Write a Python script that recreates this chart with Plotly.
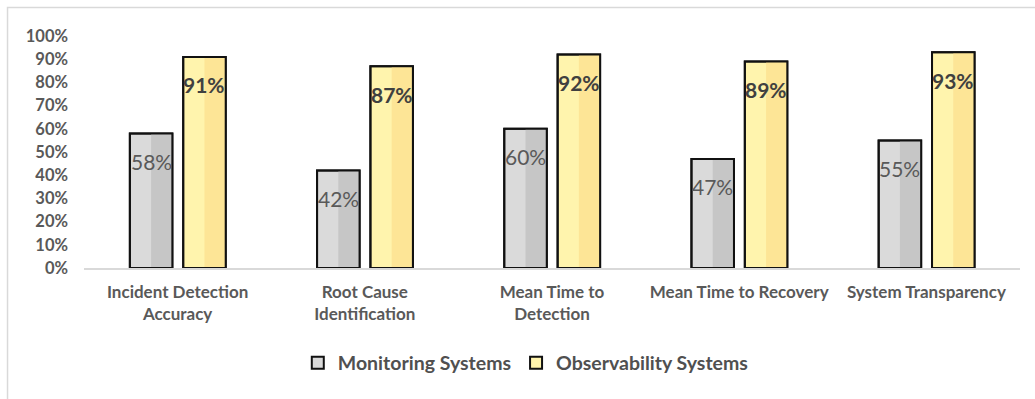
import plotly.graph_objects as go

# Chart data
categories = [
    "Incident Detection<br>Accuracy",
    "Root Cause<br>Identification",
    "Mean Time to<br>Detection",
    "Mean Time to Recovery",
    "System Transparency",
]
monitoring = [58, 42, 60, 47, 55]
observability = [91, 87, 92, 89, 93]
y_ticks = [0, 10, 20, 30, 40, 50, 60, 70, 80, 90, 100]
y_tick_labels = ["0%", "10%", "20%", "30%", "40%", "50%",
                 "60%", "70%", "80%", "90%", "100%"]

FONT = "Lato, 'Open Sans', sans-serif"
BAR_W = 0.227

series = [
    dict(name="Monitoring Systems", values=monitoring, offset=-0.255,
         light="#dadada", dark="#c6c6c6",
         label_font=dict(family=FONT, size=21, color="#595959")),
    dict(name="Observability Systems", values=observability, offset=0.030,
         light="#fff4ad", dark="#fde596",
         label_font=dict(family=FONT, size=21, color="#404040", weight="bold")),
]

x_idx = list(range(len(categories)))
fig = go.Figure()
annotations = []

for s in series:
    # main bar (light left face), shown in legend
    fig.add_trace(go.Bar(
        x=x_idx, y=s["values"], name=s["name"],
        width=BAR_W, offset=s["offset"],
        marker=dict(color=s["light"], line=dict(color="#111111", width=2)),
        hoverinfo="skip",
    ))
    # darker right face for the bevelled look
    fig.add_trace(go.Bar(
        x=x_idx, y=s["values"], showlegend=False,
        width=BAR_W / 2, offset=s["offset"] + BAR_W / 2,
        marker=dict(color=s["dark"], line=dict(width=0)),
        hoverinfo="skip",
    ))
    # outline drawn on top
    fig.add_trace(go.Bar(
        x=x_idx, y=s["values"], showlegend=False,
        width=BAR_W, offset=s["offset"],
        marker=dict(color="rgba(0,0,0,0)", line=dict(color="#111111", width=2)),
        hoverinfo="skip",
    ))
    for i, v in zip(x_idx, s["values"]):
        annotations.append(dict(
            x=i + s["offset"] + BAR_W / 2, y=v, xref="x", yref="y",
            text=f"{v}%", showarrow=False, yshift=-28,
            font=s["label_font"],
        ))

fig.update_layout(
    width=1035, height=399,
    margin=dict(l=84, r=15, t=36, b=131),
    paper_bgcolor="white", plot_bgcolor="white",
    barmode="overlay",
    showlegend=True,
    legend=dict(
        orientation="h", x=0.472, xanchor="center", y=-0.41, yanchor="middle",
        font=dict(family=FONT, size=19.5, color="#505050", weight="bold"),
        itemwidth=30, traceorder="normal",
    ),
    annotations=annotations,
    shapes=[dict(
        type="rect", xref="paper", yref="paper",
        x0=-0.0817, x1=1.2, y0=-1.0, y1=1.123,
        line=dict(color="#d9d9d9", width=1.5), layer="below",
    )],
)

fig.update_xaxes(
    range=[-0.5, 4.5], tickvals=x_idx, ticktext=categories,
    showline=True, linecolor="#d9d9d9", linewidth=1.5,
    showgrid=False, zeroline=False, ticks="",
    tickfont=dict(family=FONT, size=17, color="#595959", weight="bold"),
    ticklabelstandoff=8,
)
fig.update_yaxes(
    range=[0, 100], tickvals=y_ticks, ticktext=y_tick_labels,
    showgrid=False, zeroline=False, showline=False, ticks="",
    tickfont=dict(family=FONT, size=16.5, color="#595959", weight="bold"),
    ticklabelstandoff=15,
)

fig.write_html("out.html")
